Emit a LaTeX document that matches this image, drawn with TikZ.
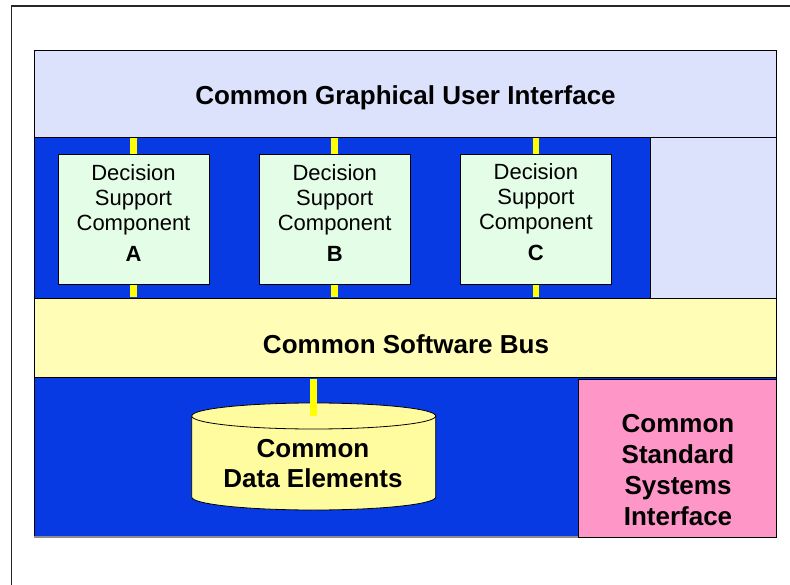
\documentclass[tikz,border=0pt]{standalone}
\usepackage{fontspec}
\setmainfont{Liberation Sans}

\definecolor{guibg}{RGB}{220,225,252}
\definecolor{bandblue}{RGB}{8,58,228}
\definecolor{compbg}{RGB}{228,253,230}
\definecolor{busbg}{RGB}{255,253,182}
\definecolor{cylbg}{RGB}{255,252,160}
\definecolor{pinkbg}{RGB}{255,150,200}
\definecolor{linkyellow}{RGB}{255,255,0}

\tikzset{
  panel/.style={draw=black, line width=0.8pt, inner sep=0pt, outer sep=0pt},
  compbox/.style={panel, fill=compbg, minimum width=150.7pt, minimum height=130.3pt},
  linkbar/.style={draw=linkyellow, line width=6.5pt},
  bigtext/.style={font=\bfseries\fontsize{26}{31}\selectfont, inner sep=0pt, align=center},
  comptext/.style={font=\fontsize{22}{25}\selectfont, inner sep=0pt, align=center},
}

\begin{document}
\begin{tikzpicture}[x=1pt, y=-1pt]
\useasboundingbox (0,0) rectangle (790,585);

% outer frame (only top and left edges fall inside the page)
\draw[line width=1.3pt, black!85] (11.5,585) -- (11.5,6) -- (790,6);

% layered bands
\node[panel, fill=guibg, minimum width=742.5pt, minimum height=87pt] (gui) at (405.25,93.5) {};
\node[panel, fill=bandblue, minimum width=616pt, minimum height=161pt] (upper) at (342,217.5) {};
\node[panel, fill=guibg, minimum width=126.5pt, minimum height=161pt] (side) at (713.25,217.5) {};
\node[panel, fill=busbg, minimum width=742.5pt, minimum height=79pt] (bus) at (405.25,337.5) {};
\node[panel, fill=bandblue, minimum width=742.5pt, minimum height=160pt] (lower) at (405.25,457) {};
\draw[line width=1.2pt, black!45] (lower.south west) -- (lower.south east);
\node[panel, fill=pinkbg, minimum width=198.2pt, minimum height=158pt] (pink) at (677.4,458) {};

% decision support components
\node[compbox] (compA) at (133.7,219.2) {};
\node[compbox] (compB) at (334.7,219.2) {};
\node[compbox] (compC) at (535.9,219.2) {};

% data store cylinder
\coordinate (cyltop) at (313.7,416);
\filldraw[fill=cylbg, draw=black, line width=0.8pt]
  (191.7,416) -- (191.7,497)
  arc[start angle=180, end angle=360, x radius=122pt, y radius=13pt]
  -- (435.7,416);
\filldraw[fill=cylbg, draw=black, line width=0.8pt]
  (cyltop) ellipse[x radius=122pt, y radius=13pt];

% yellow links
\draw[linkbar] ([yshift=-1.5pt]gui.south -| compA.north) -- ([yshift=0.5pt]compA.north);
\draw[linkbar] ([yshift=-1.5pt]gui.south -| compB.north) -- ([yshift=0.5pt]compB.north);
\draw[linkbar] ([yshift=-1.5pt]gui.south -| compC.north) -- ([yshift=0.5pt]compC.north);
\draw[linkbar] ([yshift=-0.5pt]compA.south) -- ([yshift=0.5pt]bus.north -| compA.south);
\draw[linkbar] ([yshift=-0.5pt]compB.south) -- ([yshift=0.5pt]bus.north -| compB.south);
\draw[linkbar] ([yshift=-0.5pt]compC.south) -- ([yshift=0.5pt]bus.north -| compC.south);
\draw[linkbar] ([yshift=-2pt]bus.south -| cyltop) -- (cyltop);

% labels
\node[bigtext, anchor=base] (guilabel) at (405.5,105) {Common Graphical User Interface};
\node[bigtext, anchor=base] (buslabel) at (406,354) {Common Software Bus};
\node[comptext] (labelA) at (133.5,212.6) {Decision\\Support\\Component\\[6pt]\textbf{A}};
\node[comptext] (labelB) at (334.7,212.6) {Decision\\Support\\Component\\[6pt]\textbf{B}};
\node[comptext] (labelC) at (535.9,212.6) {Decision\\Support\\Component\\[6pt]\textbf{C}};
\node[bigtext, font=\bfseries\fontsize{26}{30}\selectfont] (cdelabel) at (313,463.7) {Common\\Data Elements};
\node[bigtext] (pinklabel) at (678,470.2) {Common\\Standard\\Systems\\Interface};
\end{tikzpicture}
\end{document}
